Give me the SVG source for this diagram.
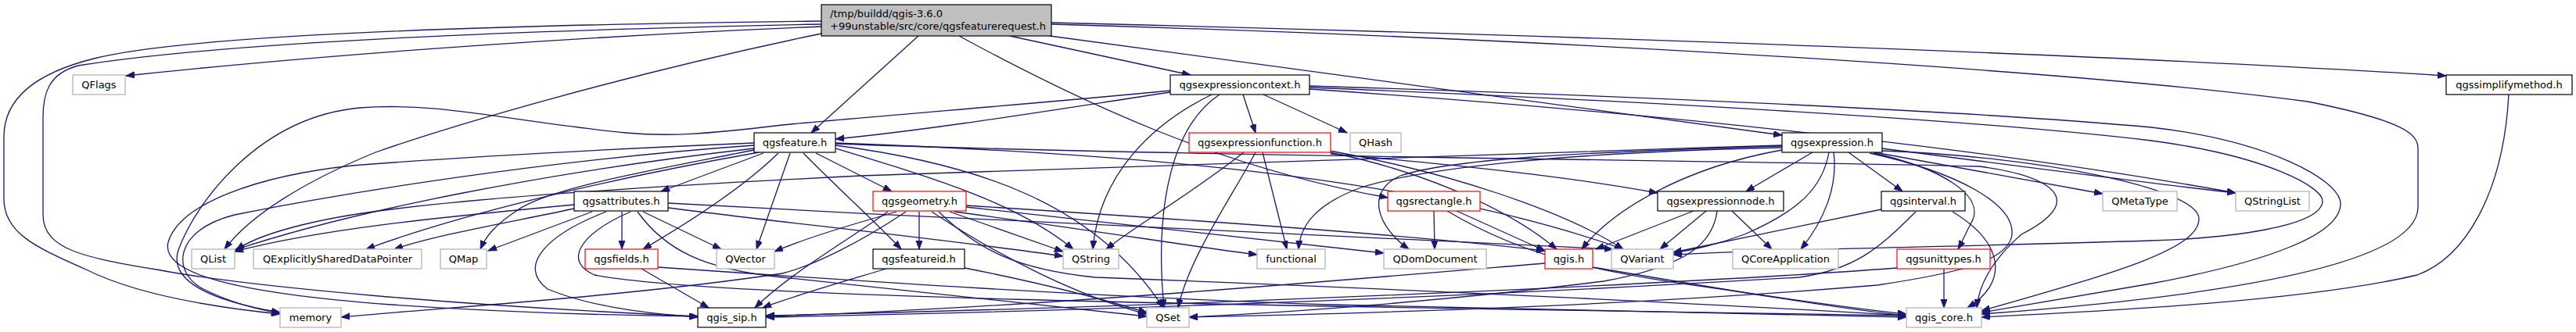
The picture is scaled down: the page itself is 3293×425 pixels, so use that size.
<svg xmlns="http://www.w3.org/2000/svg" width="3293" height="425" viewBox="0 0 3293 425">
<style>
.e{fill:none;stroke:#191970;stroke-width:1.3;marker-end:url(#a)}
.n rect{fill:#fff;stroke:#000;stroke-width:1.2}
.g rect{fill:#fff;stroke:#bfbfbf;stroke-width:1.5}
.r rect{fill:#fff;stroke:#ff0000;stroke-width:1.2}
text{font-family:"DejaVu Sans","Liberation Sans",sans-serif;font-size:13px;fill:#000;text-anchor:middle}
</style>
<defs>
<marker id="a" markerUnits="userSpaceOnUse" markerWidth="12" markerHeight="9" refX="11" refY="4" orient="auto"><path d="M0,0 L11,4 L0,8 z" fill="#191970" stroke="#191970" stroke-width="1"/></marker>
</defs>
<rect width="3293" height="425" fill="#fff"/>
<g id="edges">
<path class="e" d="M1050,34 C800,44 450,66 161,97"/>
<path class="e" d="M1050,27 C700,31 250,42 120,75 C40,95 5,130 5,175 L5,255 C5,300 50,318 110,345 C170,375 260,392 358,402"/>
<path class="e" d="M1050,31 C700,38 300,52 100,84 C62,94 55,120 55,150 L55,275 C55,320 110,330 200,345 C320,368 600,392 892,405"/>
<path class="e" d="M1050,43 C800,95 580,160 480,195 C390,232 320,275 287,319"/>
<path class="e" d="M1174,46 L1037,170"/>
<path class="e" d="M1226,46 C1380,130 1560,215 1774,253"/>
<path class="e" d="M1291,46 L1522,96"/>
<path class="e" d="M1342,46 C1700,96 2000,135 2278,173"/>
<path class="e" d="M1344,29 C2000,45 2700,70 3127,97"/>
<path class="e" d="M1344,31 C2000,50 2650,90 2950,130 C3075,155 3091,172 3091,190 L3091,265 C3091,330 2900,375 2533,402"/>
<path class="e" d="M3207,121 C3200,250 3150,330 3090,352 C2950,385 2700,398 2533,406"/>
<path class="e" d="M1496,118 C1350,140 1200,165 1068,178"/>
<path class="e" d="M1496,116 C1300,135 1100,150 1000,160 C900,172 855,175 800,170 C650,155 560,130 460,138 C330,150 250,260 228,320 C215,360 270,385 358,400"/>
<path class="e" d="M1549,121 C1470,160 1405,225 1397,319"/>
<path class="e" d="M1559,121 C1500,160 1475,260 1488,394"/>
<path class="e" d="M1589,121 L1605,170"/>
<path class="e" d="M1615,121 L1722,170"/>
<path class="e" d="M1674,110 C2000,120 2500,140 2750,163 C2900,180 2990,230 2992,260 C2993,300 2900,335 2750,363 C2650,380 2560,395 2533,400"/>
<path class="e" d="M1674,112 C2000,125 2500,150 2750,180 C2900,200 2969,240 2969,257 C2969,290 2850,305 2750,308 C2500,316 2300,318 2139,326"/>
<path class="e" d="M1674,114 C2200,150 2600,200 2858,247"/>
<path class="e" d="M1590,195 C1520,250 1450,290 1414,319"/>
<path class="e" d="M1605,195 C1570,260 1520,330 1506,394"/>
<path class="e" d="M1614,195 L1645,319"/>
<path class="e" d="M1700,195 C1800,215 1920,260 1990,319"/>
<path class="e" d="M1700,193 C1850,220 2000,270 2075,319"/>
<path class="e" d="M1701,197 C1850,210 2000,225 2119,247"/>
<path class="e" d="M2278,186 C1800,200 1300,220 1100,225 C800,240 600,255 500,268 C400,280 330,300 302,320"/>
<path class="e" d="M2278,192 C2150,215 2060,270 2022,319"/>
<path class="e" d="M2278,187 C2000,195 1850,205 1790,225 C1745,245 1760,290 1801,319"/>
<path class="e" d="M2278,189 C2000,195 1820,215 1740,240 C1680,262 1662,290 1660,319"/>
<path class="e" d="M2317,195 L2232,245"/>
<path class="e" d="M2344,195 C2350,240 2330,285 2302,319"/>
<path class="e" d="M2363,195 L2432,245"/>
<path class="e" d="M2338,195 C2330,240 2300,270 2230,300 C2190,315 2160,320 2139,324"/>
<path class="e" d="M2396,195 L2688,248"/>
<path class="e" d="M2406,190 C2600,215 2750,235 2858,247"/>
<path class="e" d="M2395,196 C2480,215 2540,250 2520,285 C2512,300 2508,310 2503,319"/>
<path class="e" d="M2406,193 C2600,200 2810,240 2811,280 C2811,320 2700,350 2533,398"/>
<path class="e" d="M2390,196 C2500,220 2575,260 2572,300 C2568,335 2500,350 2400,365 C2100,390 1800,400 1520,406"/>
<path class="e" d="M964,183 C800,190 600,200 450,212 C330,225 230,260 215,310 C205,350 300,375 500,390 C650,400 800,404 892,405"/>
<path class="e" d="M964,186 C700,205 450,245 300,275 C220,295 220,350 260,370 C300,390 340,398 358,401"/>
<path class="e" d="M964,190 C700,220 450,270 300,320"/>
<path class="e" d="M970,195 C800,225 600,270 468,319"/>
<path class="e" d="M964,192 C850,215 700,240 660,270 C630,290 620,305 614,319"/>
<path class="e" d="M976,196 L845,245"/>
<path class="e" d="M995,196 C950,240 880,285 822,319"/>
<path class="e" d="M1010,196 L967,319"/>
<path class="e" d="M1027,196 C1070,240 1120,285 1152,319"/>
<path class="e" d="M1043,196 L1140,245"/>
<path class="e" d="M1068,190 C1200,230 1300,260 1372,319"/>
<path class="e" d="M1068,186 C1250,210 1400,260 1487,394"/>
<path class="e" d="M1068,183 C1400,195 1800,220 2075,319"/>
<path class="e" d="M1068,184 C1500,200 2200,205 2530,213 C2620,225 2672,255 2584,300 C2550,330 2530,360 2527,394"/>
<path class="e" d="M734,262 C600,275 420,290 300,322"/>
<path class="e" d="M734,267 C650,285 560,300 504,319"/>
<path class="e" d="M757,271 L624,321"/>
<path class="e" d="M775,271 C700,300 660,340 700,370 C760,395 840,402 892,406"/>
<path class="e" d="M795,271 L795,319"/>
<path class="e" d="M806,271 C740,300 720,335 760,352 C900,380 1500,390 2437,404"/>
<path class="e" d="M822,271 L922,319"/>
<path class="e" d="M854,260 C1300,285 1800,305 2062,319"/>
<path class="e" d="M854,266 C1000,285 1200,305 1359,328"/>
<path class="e" d="M815,271 C850,320 900,345 1000,355 C1200,375 1350,392 1466,405"/>
<path class="e" d="M1175,271 L1175,319"/>
<path class="e" d="M1214,271 L1359,322"/>
<path class="e" d="M1191,271 C1280,330 1380,380 1466,402"/>
<path class="e" d="M1235,265 C1450,290 1650,310 1769,324"/>
<path class="e" d="M1235,263 C1500,280 1800,300 1975,321"/>
<path class="e" d="M1220,271 C1400,295 1520,315 1607,326"/>
<path class="e" d="M1146,271 C1080,290 1030,305 990,322"/>
<path class="e" d="M1158,271 C1100,310 1040,340 1000,350 C800,380 550,395 436,406"/>
<path class="e" d="M1135,271 C1080,310 1010,350 965,394"/>
<path class="e" d="M1200,271 C1250,320 1300,345 1400,355 C1800,370 2200,390 2437,404"/>
<path class="e" d="M1233,343 C1320,360 1400,380 1466,400"/>
<path class="e" d="M1133,344 C1080,360 1010,380 975,394"/>
<path class="e" d="M820,344 L906,394"/>
<path class="e" d="M841,342 C1100,360 1400,380 1700,390 C2000,398 2300,402 2437,406"/>
<path class="e" d="M1833,270 L1834,319"/>
<path class="e" d="M1862,270 L1975,321"/>
<path class="e" d="M1850,270 C1950,330 2050,350 2200,370 C2300,385 2400,398 2437,402"/>
<path class="e" d="M2165,270 L2040,319"/>
<path class="e" d="M2181,270 L2122,319"/>
<path class="e" d="M2214,270 L2265,319"/>
<path class="e" d="M2195,270 C2190,310 2160,340 2050,360 C1850,385 1650,400 1520,406"/>
<path class="e" d="M2405,268 C2300,290 2200,310 2139,323"/>
<path class="e" d="M2449,271 C2400,320 2370,345 2300,355 C1800,385 1300,400 979,406"/>
<path class="e" d="M2496,271 C2560,310 2570,360 2515,394"/>
<path class="e" d="M2485,344 L2485,394"/>
<path class="e" d="M2425,343 C2200,360 1600,390 979,404"/>
<path class="e" d="M1975,337 C1700,360 1300,395 979,405"/>
<path class="e" d="M2036,342 C2200,370 2350,395 2437,404"/>
</g>
<g id="node-root"><rect x="1050" y="6" width="294" height="40" fill="#bfbfbf" stroke="#000" stroke-width="1.2"/><text x="1061" y="22" style="text-anchor:start">/tmp/buildd/qgis-3.6.0</text><text x="1061" y="38" style="text-anchor:start">+99unstable/src/core/qgsfeaturerequest.h</text></g>
<g id="node-QFlags" class="g"><rect x="93" y="96" width="67" height="25"/><text x="126.5" y="112.5">QFlags</text></g>
<g id="node-qgsfeature" class="n"><rect x="964" y="170" width="104" height="25"/><text x="1016" y="187">qgsfeature.h</text></g>
<g id="node-qgsexpressioncontext" class="n"><rect x="1496" y="96" width="178" height="25"/><text x="1585" y="112.5">qgsexpressioncontext.h</text></g>
<g id="node-qgsexpressionfunction" class="r"><rect x="1520" y="170" width="181" height="25"/><text x="1610.5" y="187">qgsexpressionfunction.h</text></g>
<g id="node-QHash" class="g"><rect x="1726" y="170" width="65" height="25"/><text x="1758.5" y="187">QHash</text></g>
<g id="node-qgsexpression" class="n"><rect x="2278" y="170" width="128" height="25"/><text x="2342" y="187">qgsexpression.h</text></g>
<g id="node-qgssimplifymethod" class="n"><rect x="3127" y="96" width="161" height="25"/><text x="3207.5" y="112.5">qgssimplifymethod.h</text></g>
<g id="node-qgsattributes" class="n"><rect x="734" y="245" width="120" height="25"/><text x="794" y="262">qgsattributes.h</text></g>
<g id="node-qgsgeometry" class="r"><rect x="1116" y="245" width="119" height="25"/><text x="1175.5" y="262">qgsgeometry.h</text></g>
<g id="node-qgsrectangle" class="r"><rect x="1774" y="245" width="118" height="25"/><text x="1833" y="262">qgsrectangle.h</text></g>
<g id="node-qgsexpressionnode" class="n"><rect x="2119" y="245" width="161" height="25"/><text x="2199.5" y="262">qgsexpressionnode.h</text></g>
<g id="node-qgsinterval" class="n"><rect x="2405" y="245" width="107" height="25"/><text x="2458.5" y="262">qgsinterval.h</text></g>
<g id="node-QMetaType" class="g"><rect x="2688" y="245" width="95" height="25"/><text x="2735.5" y="262">QMetaType</text></g>
<g id="node-QStringList" class="g"><rect x="2858" y="245" width="94" height="25"/><text x="2905" y="262">QStringList</text></g>
<g id="node-QList" class="g"><rect x="245" y="319" width="55" height="25"/><text x="272.5" y="336">QList</text></g>
<g id="node-QExplicitlySharedDataPointer" class="g"><rect x="324" y="319" width="215" height="25"/><text x="431.5" y="336">QExplicitlySharedDataPointer</text></g>
<g id="node-QMap" class="g"><rect x="563" y="319" width="59" height="25"/><text x="592.5" y="336">QMap</text></g>
<g id="node-qgsfields" class="r"><rect x="748" y="319" width="93" height="25"/><text x="794.5" y="336">qgsfields.h</text></g>
<g id="node-QVector" class="g"><rect x="916" y="319" width="74" height="25"/><text x="953" y="336">QVector</text></g>
<g id="node-qgsfeatureid" class="n"><rect x="1116" y="319" width="117" height="25"/><text x="1174.5" y="336">qgsfeatureid.h</text></g>
<g id="node-QString" class="g"><rect x="1359" y="319" width="71" height="25"/><text x="1394.5" y="336">QString</text></g>
<g id="node-functional" class="g"><rect x="1607" y="319" width="87" height="25"/><text x="1650.5" y="336">functional</text></g>
<g id="node-QDomDocument" class="g"><rect x="1769" y="319" width="131" height="25"/><text x="1834.5" y="336">QDomDocument</text></g>
<g id="node-qgis" class="r"><rect x="1975" y="319" width="61" height="25"/><text x="2005.5" y="336">qgis.h</text></g>
<g id="node-QVariant" class="g"><rect x="2060" y="319" width="79" height="25"/><text x="2099.5" y="336">QVariant</text></g>
<g id="node-QCoreApplication" class="g"><rect x="2215" y="319" width="135" height="25"/><text x="2282.5" y="336">QCoreApplication</text></g>
<g id="node-qgsunittypes" class="r"><rect x="2425" y="319" width="119" height="25"/><text x="2484.5" y="336">qgsunittypes.h</text></g>
<g id="node-memory" class="g"><rect x="358" y="394" width="78" height="25"/><text x="397" y="411">memory</text></g>
<g id="node-qgis_sip" class="n"><rect x="892" y="394" width="87" height="25"/><text x="935.5" y="411">qgis_sip.h</text></g>
<g id="node-QSet" class="g"><rect x="1466" y="394" width="54" height="25"/><text x="1493" y="411">QSet</text></g>
<g id="node-qgis_core" class="g"><rect x="2437" y="394" width="96" height="25"/><text x="2485" y="411">qgis_core.h</text></g>
</svg>
